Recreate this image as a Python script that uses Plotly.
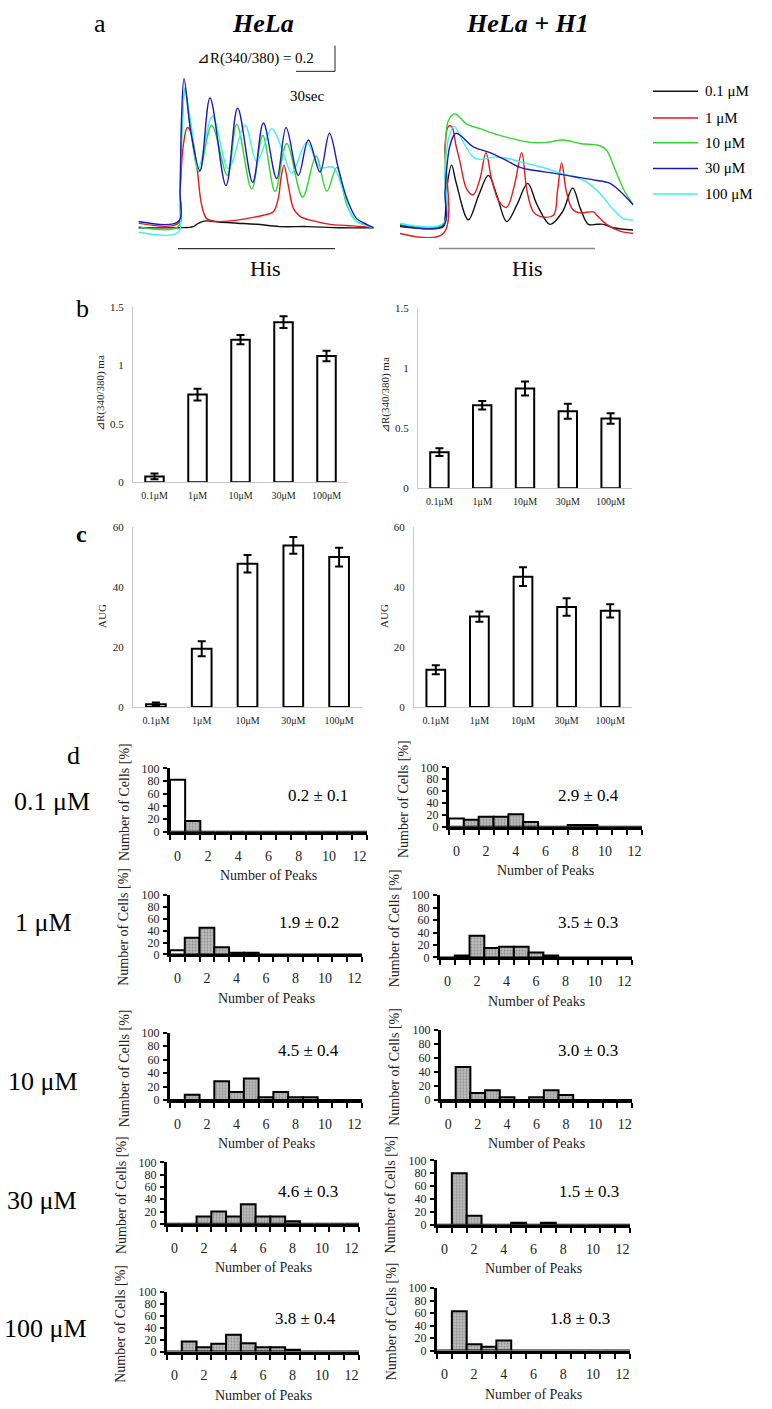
import plotly.graph_objects as go

W, H = 772, 1409
SERIF = "Liberation Serif, Times New Roman, serif"

# ---------------- panel a : Ca2+ ratio traces (time in s, ratio 340/380) -------------
traces_left = {
    "0.1 μM": ([6.6, 38, 50, 52.6, 56, 60.5, 70, 85, 100, 118, 140, 165, 192],
               [0.09, 0.09, 0.10, 0.12, 0.14, 0.15, 0.14, 0.13, 0.12, 0.10, 0.10, 0.09, 0.09]),
    "1 μM": ([6.6, 38.1, 39.5, 42, 45.2, 48, 52.6, 56.5, 60.5, 68.4, 78.9, 92, 105.2, 113.1, 117, 119,
              121.5, 124.9, 128.9, 134.1, 144.7, 157.8, 171, 184.1, 192],
             [0.13, 0.13, 0.41, 0.81, 0.97, 0.93, 0.64, 0.29, 0.17, 0.145, 0.15, 0.17, 0.20, 0.23, 0.35, 0.52,
              0.64, 0.46, 0.26, 0.19, 0.15, 0.12, 0.11, 0.10, 0.09]),
    "10 μM": ([6.6, 38.1, 39.5, 41, 43.4, 48, 54.5, 64.4, 76.8, 84.2, 96, 104.7, 114.4, 123.6, 136.2, 146.8,
               155.2, 163.1, 171, 178.8, 186.7, 192],
              [0.10, 0.10, 0.41, 0.93, 1.32, 0.93, 0.58, 0.99, 0.55, 1.00, 0.43, 0.90, 0.41, 0.83, 0.36, 0.72,
               0.41, 0.62, 0.29, 0.145, 0.11, 0.09]),
    "30 μM": ([6.6, 38.1, 39.5, 40.5, 42.6, 48, 55.2, 63.1, 75.7, 84.9, 96.8, 105.2, 115.7, 123.1, 132.8, 140.7,
               149.9, 157.3, 164.4, 171, 178.8, 186.7, 192],
              [0.145, 0.145, 0.41, 1.01, 1.40, 0.93, 0.59, 1.23, 0.46, 1.14, 0.49, 1.01, 0.52, 0.97, 0.55, 0.86,
               0.58, 0.92, 0.61, 0.35, 0.17, 0.12, 0.09]),
    "100 μM": ([6.6, 38.1, 39, 40.5, 43.4, 48, 53.9, 65, 77.6, 90.7, 100, 111.8, 120, 127.6, 139.4, 149.9,
                160.4, 168.3, 176.2, 184.1, 192],
               [0.05, 0.05, 0.29, 0.87, 1.28, 1.01, 0.61, 1.07, 0.61, 0.99, 0.67, 0.96, 0.78, 0.57, 0.84, 0.62,
                0.62, 0.41, 0.17, 0.12, 0.09]),
}
traces_right = {
    "0.1 μM": ([15.8, 50, 51.3, 53, 56.5, 60, 69.7, 78, 85.5, 92, 100, 108, 116.5, 124, 134.1, 144, 152, 158,
                164.4, 171, 176.2, 184.1, 199.9],
               [0.10, 0.10, 0.17, 0.46, 0.64, 0.49, 0.16, 0.38, 0.55, 0.38, 0.145, 0.29, 0.48, 0.29, 0.12, 0.23,
                0.44, 0.26, 0.12, 0.12, 0.12, 0.09, 0.07]),
    "1 μM": ([15.8, 50, 51.3, 53.9, 56.5, 60, 63.1, 68.4, 73.6, 78.9, 83.6, 88, 94, 100, 106, 111.8, 116, 121,
              126.2, 136.8, 140, 143.3, 147, 152, 157.8, 168.3, 171, 178.8, 189.4, 199.9],
             [0.04, 0.04, 0.81, 0.98, 0.98, 0.81, 0.67, 0.43, 0.38, 0.52, 0.75, 0.52, 0.32, 0.27, 0.46, 0.75, 0.41,
              0.23, 0.19, 0.20, 0.41, 0.66, 0.41, 0.25, 0.22, 0.23, 0.20, 0.12, 0.06, 0.04]),
    "10 μM": ([15.8, 50, 51.3, 53.9, 59.2, 68.4, 78.9, 92, 105.2, 118.4, 131.5, 144.7, 157.8, 173.6, 178.8, 184.1,
               192, 199.9],
              [0.12, 0.12, 0.58, 1.03, 1.09, 1.00, 0.96, 0.91, 0.87, 0.84, 0.84, 0.86, 0.83, 0.81, 0.77, 0.64,
               0.43, 0.29]),
    "30 μM": ([15.8, 50, 51.3, 55.2, 60, 73.6, 86.8, 100, 110.5, 123.6, 136.8, 152.5, 168.3, 181.5, 189.4, 199.9],
              [0.11, 0.11, 0.41, 0.81, 0.92, 0.80, 0.75, 0.68, 0.62, 0.59, 0.57, 0.54, 0.51, 0.48, 0.41, 0.29]),
    "100 μM": ([15.8, 50, 51.3, 54, 58.4, 65.8, 73.6, 78.9, 89.4, 100, 110.5, 121, 131.5, 142, 152.5, 163.1,
                173.6, 184.1, 192, 199.9],
               [0.13, 0.13, 0.58, 0.87, 0.98, 0.84, 0.71, 0.69, 0.71, 0.70, 0.67, 0.64, 0.61, 0.57, 0.54, 0.49,
                0.39, 0.25, 0.17, 0.16]),
}
trace_colors = {"0.1 μM": "#111111", "1 μM": "#e3191c", "10 μM": "#2fd62f",
                "30 μM": "#1c1cb4", "100 μM": "#3ff0f0"}

# ---------------- panels b, c ----------------
conc = ["0.1μM", "1μM", "10μM", "30μM", "100μM"]
b_hela = [0.05, 0.75, 1.22, 1.37, 1.08]
b_hela_err = [0.025, 0.05, 0.04, 0.05, 0.045]
b_h1 = [0.30, 0.69, 0.83, 0.64, 0.58]
b_h1_err = [0.033, 0.036, 0.058, 0.063, 0.044]
c_hela = [0.9, 19.4, 47.7, 53.8, 49.9]
c_hela_err = [0.6, 2.5, 2.9, 2.8, 3.1]
c_h1 = [12.4, 30.1, 43.4, 33.3, 32.0]
c_h1_err = [1.5, 1.7, 3.1, 2.9, 2.2]

# ---------------- panel d : peak-number histograms (% of cells) ----------------
peaks = list(range(13))
hela_0_1uM = [82, 17, 0, 0, 0, 0, 0, 0, 0, 0, 0, 0, 0]
hela_1uM = [7, 28, 45, 12, 3, 3, 0, 0, 0, 0, 0, 0, 0]
hela_10uM = [0, 8, 0, 28, 12, 32, 4, 12, 4, 4, 0, 0, 0]
hela_30uM = [0, 0, 12, 20, 12, 32, 12, 12, 4, 0, 0, 0, 0]
hela_100uM = [0, 17, 7, 13, 28, 14, 7, 7, 3, 0, 0, 0, 0]
h1_0_1uM = [14, 12, 17, 17, 21, 8, 0, 0, 3, 3, 0, 0, 0]
h1_1uM = [0, 3, 35, 15, 17, 17, 8, 3, 0, 0, 0, 0, 0]
h1_10uM = [0, 47, 10, 14, 4, 0, 4, 14, 7, 0, 0, 0, 0]
h1_30uM = [0, 80, 14, 0, 0, 3, 0, 3, 0, 0, 0, 0, 0]
h1_100uM = [0, 63, 10, 6, 16, 0, 0, 0, 0, 0, 0, 0, 0]
row_labels = ["0.1 μM", "1 μM", "10 μM", "30 μM", "100 μM"]
hela_means = ["0.2 ± 0.1", "1.9 ± 0.2", "4.5 ± 0.4", "4.6 ± 0.3", "3.8 ± 0.4"]
h1_means = ["2.9 ± 0.4", "3.5 ± 0.3", "3.0 ± 0.3", "1.5 ± 0.3", "1.8 ± 0.3"]
x_ticks = [0, 2, 4, 6, 8, 10, 12]
y_ticks = [0, 20, 40, 60, 80, 100]

# =====================================================================
fig = go.Figure()
axes_layout = {}
annotations = []
shapes = []
n_axes = [0]


def new_axes(x0, x1, ytop, ybot, xkw, ykw):
    n_axes[0] += 1
    s = "" if n_axes[0] == 1 else str(n_axes[0])
    axes_layout["xaxis" + s] = dict(domain=[x0 / W, x1 / W], anchor="y" + s, **xkw)
    axes_layout["yaxis" + s] = dict(domain=[1 - ybot / H, 1 - ytop / H], anchor="x" + s, **ykw)
    return "x" + s, "y" + s


def text(x, y, s, size, xanchor="center", angle=0, color="black"):
    annotations.append(dict(x=x / W, y=1 - y / H, xref="paper", yref="paper", text=s, showarrow=False,
                            font=dict(family=SERIF, size=size, color=color), xanchor=xanchor,
                            yanchor="middle", textangle=angle))


def line(x0, y0, x1, y1, color="black", width=1):
    shapes.append(dict(type="line", xref="paper", yref="paper", x0=x0 / W, y0=1 - y0 / H,
                       x1=x1 / W, y1=1 - y1 / H, line=dict(color=color, width=width)))


# ---- panel a ----
hidden = dict(visible=False, fixedrange=True)
for data, dom, xr in [(traces_left, (138.4, 374.4), [6.6, 192.8]),
                      (traces_right, (400.0, 633.4), [15.8, 199.9])]:
    xa, ya = new_axes(dom[0], dom[1], 40, 233.3, dict(hidden, range=xr), dict(hidden, range=[0, 1.681]))
    for name in ["0.1 μM", "1 μM", "10 μM", "100 μM", "30 μM"]:
        t, r = data[name]
        fig.add_trace(go.Scatter(x=t, y=r, mode="lines", xaxis=xa, yaxis=ya, showlegend=False,
                                 hoverinfo="skip",
                                 line=dict(color=trace_colors[name], width=1.4, shape="spline", smoothing=1.0)))

text(100, 17, "a", 26)
text(263, 17, "<b><i>HeLa</i></b>", 26)
text(527, 17, "<b><i>HeLa + H1</i></b>", 26)
text(255, 52, "⊿R(340/380) = 0.2", 15)
line(296, 65, 335, 65, "#222", 1)
line(335, 39, 335, 65, "#222", 1)
text(307, 90, "30sec", 15)
line(178, 244, 335, 244, "#333", 1.2)
text(265, 264, "His", 22)
line(439, 244, 595, 244, "#888", 1.5)
text(527, 264, "His", 22)
for i, name in enumerate(["0.1 μM", "1 μM", "10 μM", "30 μM", "100 μM"]):
    yy = [85, 112, 137, 163, 189][i]
    line(653, yy, 698, yy, trace_colors[name], 1.5)
    text(703, yy, name, 15, xanchor="left")

# ---- panels b, c ----
def bar_panel(x0, x1, ytop, ybot, vals, errs, yr, tickvals, ytitle, tx, ty):
    xa, ya = new_axes(
        x0, x1, ytop, ybot,
        dict(type="category", range=[-0.5, 4.5], showline=True, linecolor="#c8c8c8", linewidth=1,
             ticks="", tickfont=dict(family=SERIF, size=10, color="#222"), ticklabelstandoff=4,
             showgrid=False, zeroline=False, fixedrange=True),
        dict(range=yr, showline=True, linecolor="#c8c8c8", linewidth=1, ticks="", tickvals=tickvals,
             tickfont=dict(family=SERIF, size=11, color="#222"), ticklabelstandoff=6,
             showgrid=False, zeroline=False, fixedrange=True))
    fig.add_trace(go.Bar(x=conc, y=vals, xaxis=xa, yaxis=ya, width=0.43, showlegend=False,
                         marker=dict(color="white", line=dict(color="black", width=2)),
                         error_y=dict(type="data", array=errs, color="black", thickness=2, width=4)))
    text(tx, ty, ytitle, 11, angle=-90, color="#222")


bar_panel(133, 348, 303, 480, b_hela, b_hela_err, [0, 1.5], [0, 0.5, 1, 1.5], "⊿R(340/380) ma", 100, 390)
bar_panel(418, 632, 304, 486, b_h1, b_h1_err, [0, 1.5], [0, 0.5, 1, 1.5], "⊿R(340/380) ma", 385, 392)
bar_panel(133, 362, 525, 707, c_hela, c_hela_err, [0, 60], [0, 20, 40, 60], "AUG", 102, 615)
bar_panel(414, 632, 525, 707, c_h1, c_h1_err, [0, 60], [0, 20, 40, 60], "AUG", 384, 615)
text(82, 305, "b", 26)
text(81, 532, "<b>c</b>", 24)

# ---- panel d ----
text(73, 756, "d", 26)
left_boxes = [(170, 367, 769, 833), (170, 362, 897, 957), (170, 362, 1036, 1104),
              (167, 359, 1167, 1229), (167, 359, 1298, 1358)]
right_boxes = [(449, 642, 768, 828), (440, 632, 897, 960), (441, 632, 1033, 1104),
               (437, 630, 1165, 1230), (437, 630, 1294, 1357)]
left_mean_pos = [(318, 796), (309, 925), (308, 1054), (308, 1196), (305, 1325)]
right_mean_pos = [(588, 796), (588, 925), (588, 1054), (589, 1196), (580, 1325)]
row_label_pos = [(52, 802), (43, 925), (43, 1085), (42, 1205), (45, 1335)]
hela_hists = [hela_0_1uM, hela_1uM, hela_10uM, hela_30uM, hela_100uM]
h1_hists = [h1_0_1uM, h1_1uM, h1_10uM, h1_30uM, h1_100uM]

gray_marker = dict(color="#b4b4b4",
                   pattern=dict(shape=".", fgcolor="#5a5a5a", bgcolor="#bcbcbc", size=3, solidity=0.3),
                   line=dict(color="black", width=2))
white_marker = dict(color="white", line=dict(color="black", width=2))


def hist_panel(box, vals, mean_txt, mean_pos):
    x0, x1, ytop, ybot = box
    xa, ya = new_axes(
        x0, x1, ytop, ybot,
        dict(range=[-0.5, 12.5], tickvals=x_ticks, ticks="", showline=True, linecolor="black", linewidth=3,
             tickfont=dict(family=SERIF, size=14, color="#222"), ticklabelstandoff=9,
             minor=dict(tickvals=[i - 0.5 for i in range(14)], ticks="outside", ticklen=5, tickwidth=2,
                        tickcolor="black", showgrid=False),
             showgrid=False, zeroline=False, fixedrange=True),
        dict(range=[0, 100], tickvals=y_ticks, ticks="outside", ticklen=4, tickwidth=2, tickcolor="black",
             showline=True, linecolor="black", linewidth=3,
             tickfont=dict(family=SERIF, size=12, color="#222"), ticklabelstandoff=1,
             showgrid=False, zeroline=False, fixedrange=True))
    fig.add_trace(go.Bar(x=peaks[:1], y=vals[:1], width=1, xaxis=xa, yaxis=ya, showlegend=False,
                         marker=white_marker))
    fig.add_trace(go.Bar(x=peaks[1:], y=vals[1:], width=1, xaxis=xa, yaxis=ya, showlegend=False,
                         marker=gray_marker))
    text(mean_pos[0], mean_pos[1], mean_txt, 17)
    text((x0 + x1) / 2, ybot + 44, "Number of Peaks", 14, color="#222")
    text(x0 - 46, (ytop + ybot) / 2 + 2, "Number of Cells [%]", 14, angle=-90, color="#222")


for i in range(5):
    hist_panel(left_boxes[i], hela_hists[i], hela_means[i], left_mean_pos[i])
    hist_panel(right_boxes[i], h1_hists[i], h1_means[i], right_mean_pos[i])
    text(row_label_pos[i][0], row_label_pos[i][1], row_labels[i], 26)

fig.update_layout(width=W, height=H, margin=dict(l=0, r=0, t=0, b=0), paper_bgcolor="white",
                  plot_bgcolor="white", showlegend=False, barmode="overlay",
                  annotations=annotations, shapes=shapes, **axes_layout)
fig.write_html("out.html", config={"displayModeBar": False},
               post_script="document.body.style.margin='0';document.body.style.overflow='hidden';")
